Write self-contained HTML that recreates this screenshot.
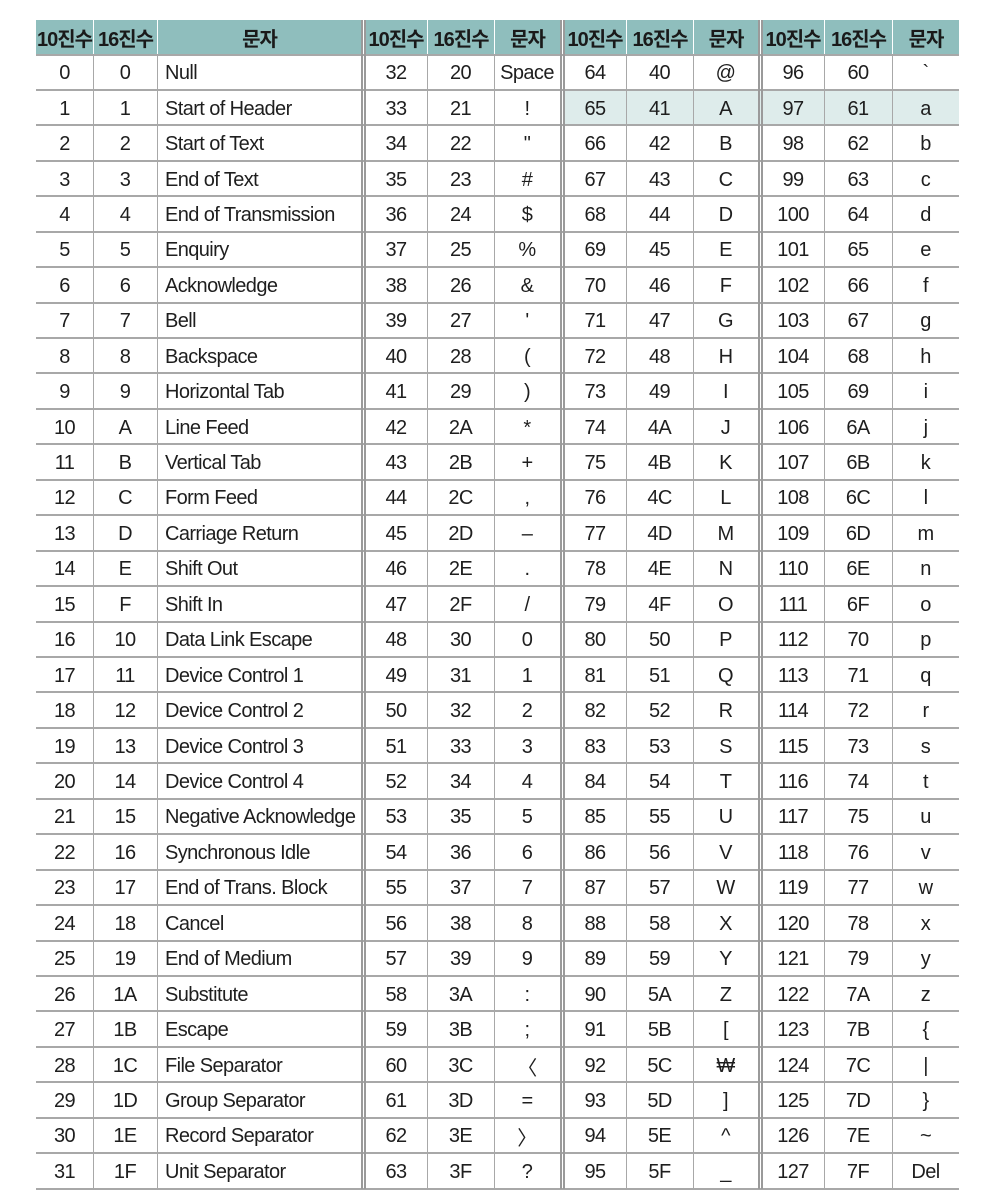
<!DOCTYPE html>
<html><head><meta charset="utf-8">
<style>
html,body{margin:0;padding:0;background:#fff;width:1004px;height:1196px;overflow:hidden}
#tbl{position:absolute;left:0;top:0;width:1004px;height:1196px}
.c{position:absolute;display:flex;align-items:center;justify-content:center;font-family:"Liberation Sans","Noto Sans CJK KR",sans-serif;font-size:20px;color:#1e1e1e;box-sizing:border-box;letter-spacing:-0.6px;padding-top:3px}
.h{background:#8fbebd;font-family:"Liberation Sans","Noto Sans CJK KR",sans-serif;font-weight:bold;font-size:20px;letter-spacing:-1px;color:#1a1a1a;padding-top:1px}
.l{justify-content:flex-start;padding-left:8px}
.ln{position:absolute;background:#a0a0a0}
</style></head><body>
<div id="tbl"></div>
<script>
const names=["Null","Start of Header","Start of Text","End of Text","End of Transmission","Enquiry","Acknowledge","Bell","Backspace","Horizontal Tab","Line Feed","Vertical Tab","Form Feed","Carriage Return","Shift Out","Shift In","Data Link Escape","Device Control 1","Device Control 2","Device Control 3","Device Control 4","Negative Acknowledge","Synchronous Idle","End of Trans. Block","Cancel","End of Medium","Substitute","Escape","File Separator","Group Separator","Record Separator","Unit Separator"];
const chars2=["Space","!","\"","#","$","%","&","'","(",")","*","+",",","–",".","/","0","1","2","3","4","5","6","7","8","9",":",";","〈","=","〉","?"];
const chars3=["@","A","B","C","D","E","F","G","H","I","J","K","L","M","N","O","P","Q","R","S","T","U","V","W","X","Y","Z","[","₩","]","^","_"];
const chars4=["`","a","b","c","d","e","f","g","h","i","j","k","l","m","n","o","p","q","r","s","t","u","v","w","x","y","z","{","|","}","~","Del"];
const headers=["10진수","16진수","문자"];
const blocks=[{x:[36,93,157,361],ch:names,off:0,left:true},{x:[365,427,494,560],ch:chars2,off:32},{x:[564,626,693,758],ch:chars3,off:64},{x:[762,824,892,959],ch:chars4,off:96}];
const top0=20,hh=34.5,rh=35.44;
const T=document.getElementById('tbl');
function cell(x,y,w,h,txt,cls){const d=document.createElement('div');d.className='c '+cls;d.style.left=x+'px';d.style.top=y+'px';d.style.width=w+'px';d.style.height=h+'px';d.textContent=txt;T.appendChild(d);return d;}
function line(x,y,w,h,col){const d=document.createElement('div');d.className='ln';d.style.left=x+'px';d.style.top=y+'px';d.style.width=w+'px';d.style.height=h+'px';if(col)d.style.background=col;T.appendChild(d);return d;}
const hl=line(564,top0+hh+rh,395,rh,'#deeceb');


blocks.forEach((b,bi)=>{
 for(let k=0;k<3;k++){
  const c=cell(b.x[k]+(k?1:0),top0,b.x[k+1]-b.x[k]-(k?1:0),hh,headers[k],'h');
  
  
 }
 for(let r=0;r<32;r++){
  const y=top0+hh+r*rh, v=b.off+r;
  const vals=[String(v),v.toString(16).toUpperCase(),b.ch[r]];
  for(let k=0;k<3;k++){
   const c=cell(b.x[k],y,b.x[k+1]-b.x[k],rh,vals[k],(k==2&&b.left)?'l':'');
   
   
  }
 }
 for(let k=1;k<3;k++){line(b.x[k],top0+hh,1,32*rh,'#a8a8a8');line(b.x[k],top0,1,hh,'#ffffff');}
});
for(let r=0;r<=32;r++){const y=top0+hh+r*rh;line(36,Math.round(y)-1,923,2,'#a8a8a8');}
[361,560,758].forEach(x=>{line(x,top0,1.5,hh+32*rh,'#9a9a9a');line(x+3,top0,1.5,hh+32*rh,'#9a9a9a');});
</script>
</body></html>
